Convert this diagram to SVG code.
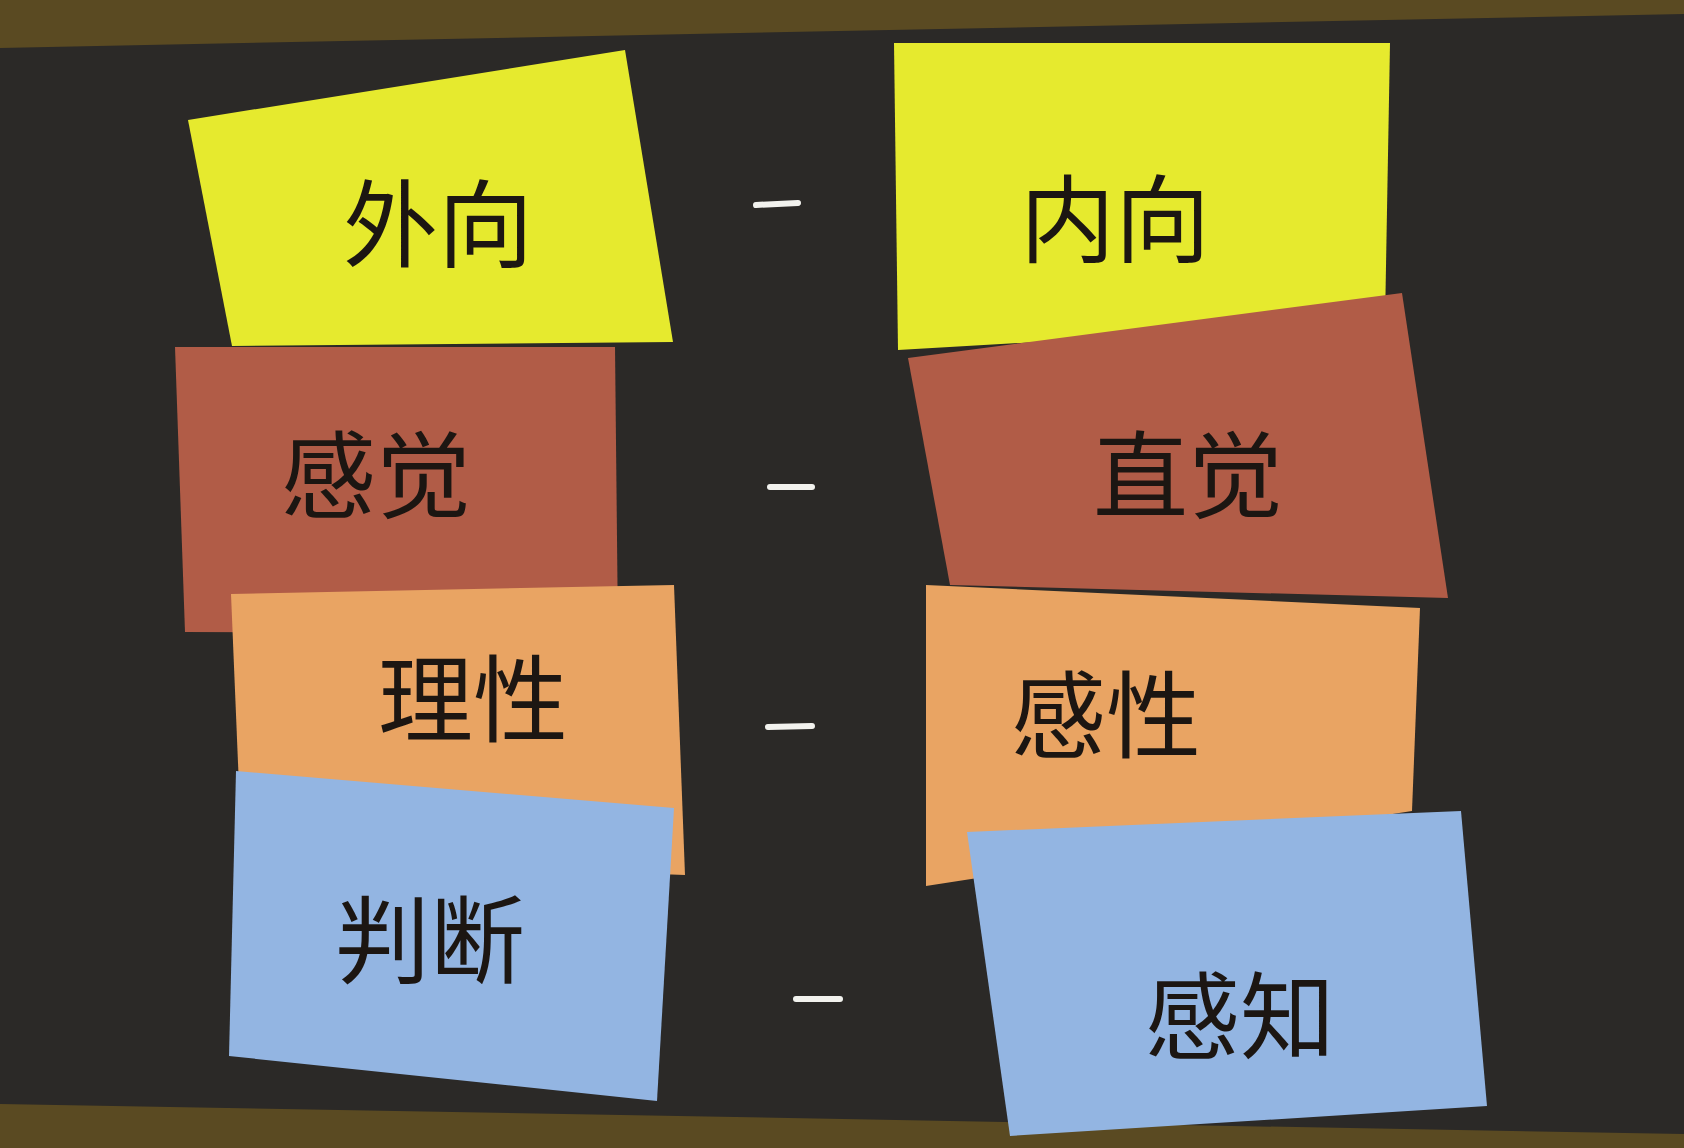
<svg xmlns="http://www.w3.org/2000/svg" width="1684" height="1148" viewBox="0 0 1684 1148">
  <style>
    .lbl { font-family: "Noto Sans CJK SC", "Noto Sans", sans-serif; font-size: 95px; font-weight: 400; fill: #1c1612; text-anchor: middle; dominant-baseline: central; }
    .yellow { fill: #e6ea2e; }
    .brown { fill: #b15c47; }
    .orange { fill: #e9a463; }
    .blue { fill: #93b5e2; }
    .dash { stroke: #f2f2ee; stroke-width: 6; stroke-linecap: round; fill: none; }
  </style>
  <rect x="0" y="0" width="1684" height="1148" fill="#2b2927"/>
  <polygon points="0,0 1684,0 1684,14 0,48" fill="#5a4a22"/>
  <polygon points="0,1104 1684,1134 1684,1148 0,1148" fill="#5a4a22"/>

  <g id="node-waixiang">
    <polygon class="yellow" points="188,120 625,50 673,342 232,346"/>
    <text class="lbl" x="438" y="218">外向</text>
  </g>
  <g id="node-ganjue">
    <polygon class="brown" points="175,347 615,347 618,634 185,632"/>
    <text class="lbl" x="376" y="469">感觉</text>
  </g>
  <g id="node-lixing">
    <polygon class="orange" points="231,594 674,585 685,875 242,859"/>
    <text class="lbl" x="473" y="693">理性</text>
  </g>
  <g id="node-panduan">
    <polygon class="blue" points="236,771 674,808 657,1101 229,1056"/>
    <text class="lbl" x="430" y="934">判断</text>
  </g>

  <g id="node-neixiang">
    <polygon class="yellow" points="894,43 1390,43 1385,322 898,350"/>
    <text class="lbl" x="1115" y="213">内向</text>
  </g>
  <g id="node-zhijue">
    <polygon class="brown" points="908,358 1402,293 1448,598 950,585"/>
    <text class="lbl" x="1188" y="469">直觉</text>
  </g>
  <g id="node-ganxing">
    <polygon class="orange" points="926,585 1420,608 1412,811 926,886"/>
    <text class="lbl" x="1106" y="709">感性</text>
  </g>
  <g id="node-ganzhi">
    <polygon class="blue" points="967,832 1461,811 1487,1106 1010,1136"/>
    <text class="lbl" x="1240" y="1010">感知</text>
  </g>

  <g id="connectors">
    <line class="dash" x1="756" y1="205" x2="798" y2="203"/>
    <line class="dash" x1="770" y1="487" x2="812" y2="487"/>
    <line class="dash" x1="768" y1="727" x2="812" y2="726"/>
    <line class="dash" x1="796" y1="999" x2="840" y2="999"/>
  </g>
</svg>
